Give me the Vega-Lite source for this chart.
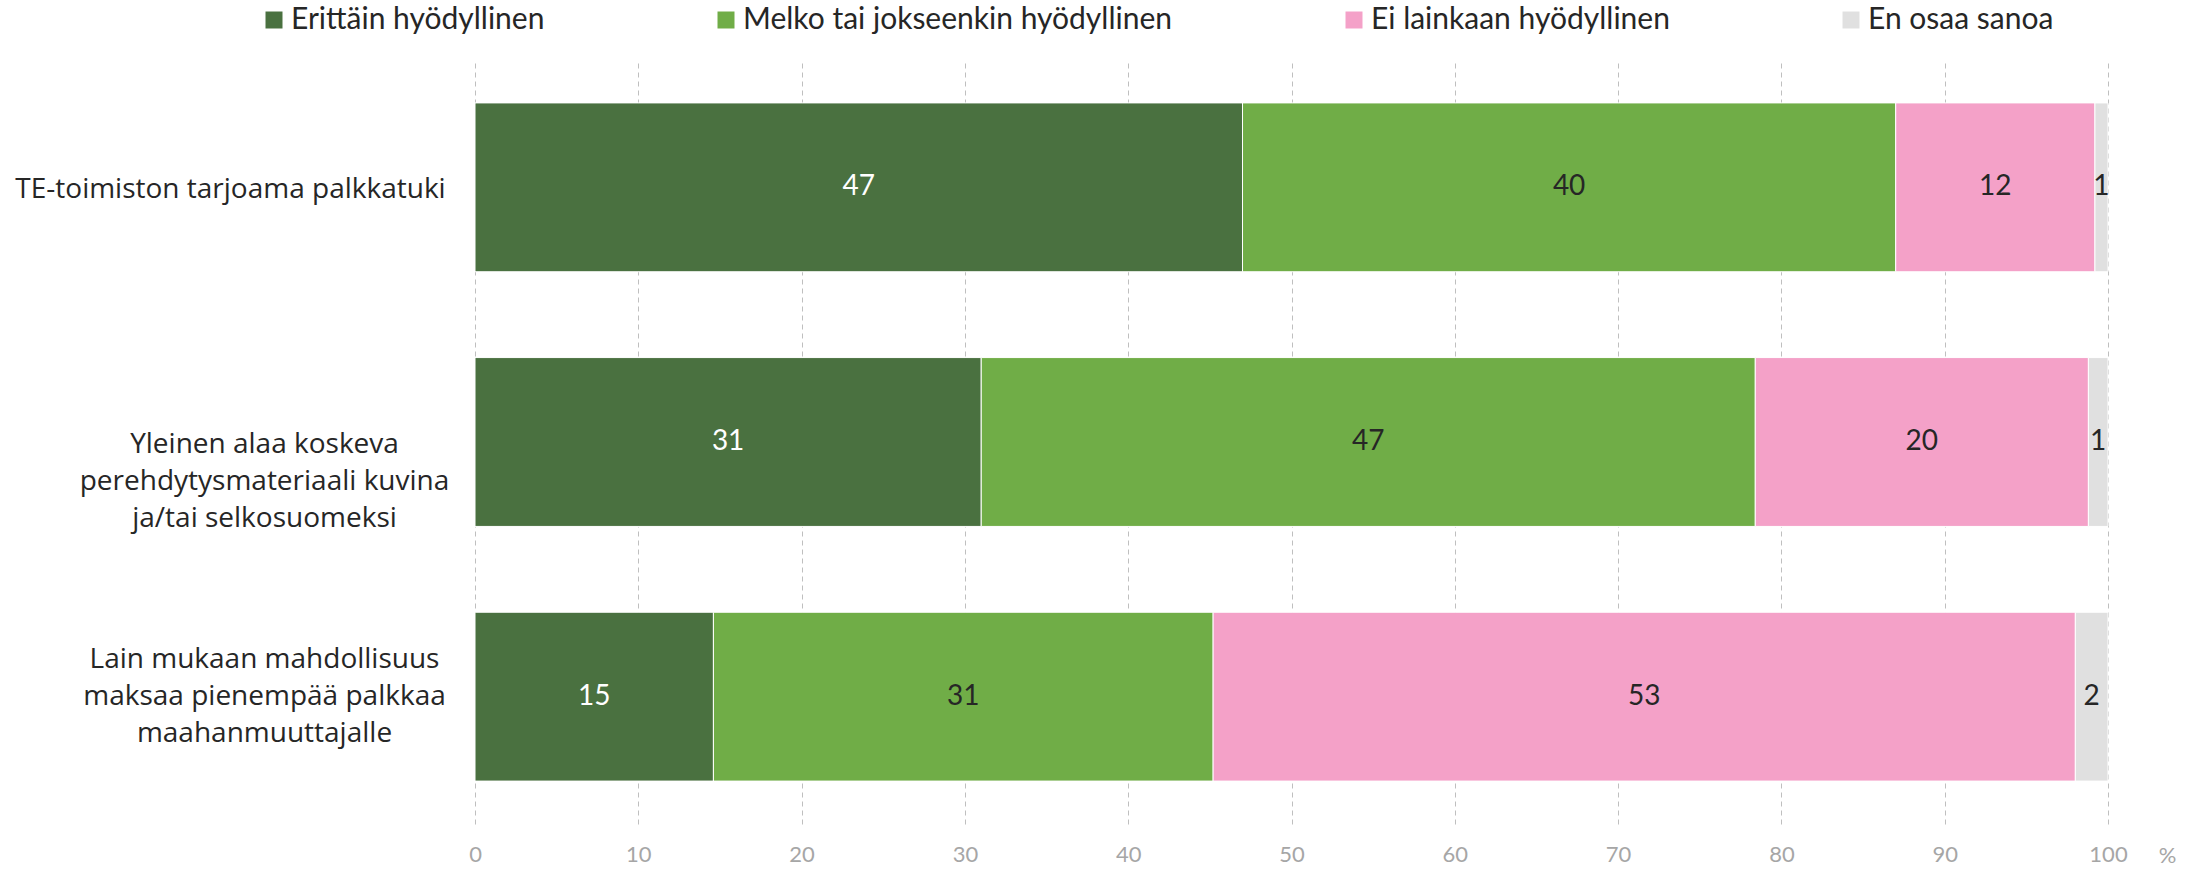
{
  "$schema": "https://vega.github.io/schema/vega-lite/v6.json",
  "width": 1633,
  "height": 764,
  "autosize": {"type": "none"},
  "padding": {"left": 475, "top": 60, "right": 97, "bottom": 45},
  "background": "white",
  "config": {"view": {"stroke": null}, "font": "Lato"},
  "data": {
    "values": [
      {"item": "TE-toimiston tarjoama palkkatuki", "cat": "Erittäin hyödyllinen", "ord": 1, "value": 47.0},
      {"item": "TE-toimiston tarjoama palkkatuki", "cat": "Melko tai jokseenkin hyödyllinen", "ord": 2, "value": 40.0},
      {"item": "TE-toimiston tarjoama palkkatuki", "cat": "Ei lainkaan hyödyllinen", "ord": 3, "value": 12.2},
      {"item": "TE-toimiston tarjoama palkkatuki", "cat": "En osaa sanoa", "ord": 4, "value": 0.8},
      {"item": "Yleinen alaa koskeva|perehdytysmateriaali kuvina|ja/tai selkosuomeksi", "cat": "Erittäin hyödyllinen", "ord": 1, "value": 31.0},
      {"item": "Yleinen alaa koskeva|perehdytysmateriaali kuvina|ja/tai selkosuomeksi", "cat": "Melko tai jokseenkin hyödyllinen", "ord": 2, "value": 47.4},
      {"item": "Yleinen alaa koskeva|perehdytysmateriaali kuvina|ja/tai selkosuomeksi", "cat": "Ei lainkaan hyödyllinen", "ord": 3, "value": 20.4},
      {"item": "Yleinen alaa koskeva|perehdytysmateriaali kuvina|ja/tai selkosuomeksi", "cat": "En osaa sanoa", "ord": 4, "value": 1.2},
      {"item": "Lain mukaan mahdollisuus|maksaa pienempää palkkaa|maahanmuuttajalle", "cat": "Erittäin hyödyllinen", "ord": 1, "value": 14.6},
      {"item": "Lain mukaan mahdollisuus|maksaa pienempää palkkaa|maahanmuuttajalle", "cat": "Melko tai jokseenkin hyödyllinen", "ord": 2, "value": 30.6},
      {"item": "Lain mukaan mahdollisuus|maksaa pienempää palkkaa|maahanmuuttajalle", "cat": "Ei lainkaan hyödyllinen", "ord": 3, "value": 52.8},
      {"item": "Lain mukaan mahdollisuus|maksaa pienempää palkkaa|maahanmuuttajalle", "cat": "En osaa sanoa", "ord": 4, "value": 2.0}
    ]
  },
  "encoding": {
    "y": {
      "field": "item",
      "type": "nominal",
      "sort": null,
      "scale": {"paddingInner": 0.337, "paddingOuter": 0.1685},
      "axis": {
        "title": null,
        "domain": false,
        "ticks": false,
        "tickSize": 0,
        "labelFlush": false,
        "labelFont": "Open Sans",
        "labelFontSize": 28,
        "labelColor": "#262626",
        "labelAlign": "center",
        "labelBaseline": "middle",
        "labelLineHeight": 37,
        "labelLimit": 0,
        "labelExpr": "split(datum.label, '|')",
        "labelOffset": {"condition": {"test": "indexof(datum.value, 'Lain') === 0", "value": -37}, "value": 3},
        "labelPadding": {"condition": {"test": "datum.value === 'TE-toimiston tarjoama palkkatuki'", "value": 245}, "value": 211}
      }
    }
  },
  "layer": [
    {
      "mark": {"type": "bar", "stroke": "white", "strokeWidth": 1},
      "encoding": {
        "x": {
          "field": "value",
          "type": "quantitative",
          "stack": "zero",
          "scale": {"domain": [0, 100], "nice": false},
          "axis": {
            "title": "%",
            "values": [0, 10, 20, 30, 40, 50, 60, 70, 80, 90, 100],
            "grid": true,
            "gridDash": [5, 4],
            "gridColor": "#bfbfbf",
            "gridWidth": 1,
            "domain": false,
            "ticks": false,
            "tickSize": 0,
            "labelFlush": false,
            "labelFont": "Lato",
            "labelFontSize": 22,
            "labelColor": "#a6a6a6",
            "labelPadding": 20,
            "titleFont": "Lato",
            "titleFontSize": 22,
            "titleFontWeight": "normal",
            "titleColor": "#a6a6a6",
            "titleX": 1692,
            "titleY": 31,
            "titleBaseline": "middle",
            "titleAlign": "center",
            "titleAnchor": "start"
          }
        },
        "color": {
          "field": "cat",
          "type": "nominal",
          "scale": {
            "domain": ["Erittäin hyödyllinen", "Melko tai jokseenkin hyödyllinen", "Ei lainkaan hyödyllinen", "En osaa sanoa"],
            "range": ["#4a7140", "#70ad47", "#f4a1c8", "#e0e0e0"]
          },
          "legend": {
            "orient": "none",
            "legendX": -216,
            "legendY": -55,
            "direction": "horizontal",
            "title": null,
            "symbolType": "square",
            "symbolSize": 289,
            "symbolStrokeWidth": 0,
            "labelFont": "Lato",
            "labelFontSize": 30,
            "labelColor": "#262626",
            "columnPadding": 166,
            "labelOffset": 2,
            "labelLimit": 0
          }
        },
        "order": {"field": "ord"}
      }
    },
    {
      "mark": {"type": "text", "font": "Lato", "fontSize": 28, "baseline": "middle", "align": "center"},
      "encoding": {
        "x": {"field": "value", "type": "quantitative", "stack": "zero", "bandPosition": 0.5},
        "text": {"field": "value", "type": "quantitative", "format": ".0f"},
        "detail": {"field": "cat"},
        "order": {"field": "ord"},
        "color": {"condition": {"test": "datum.cat === 'Erittäin hyödyllinen'", "value": "white"}, "value": "#262626"}
      }
    }
  ]
}
